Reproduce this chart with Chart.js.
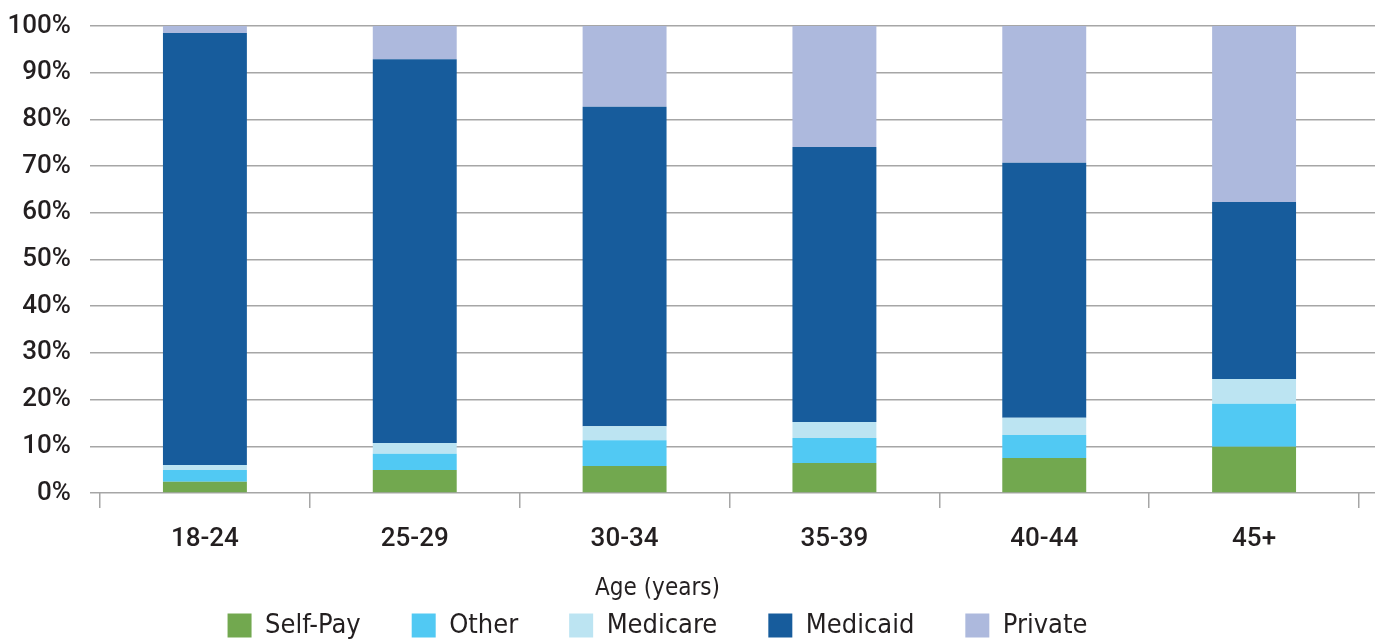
<!DOCTYPE html>
<html>
<head>
<meta charset="utf-8">
<script src="https://cdn.jsdelivr.net/npm/chart.js@4"></script>
<style>
  html, body { margin: 0; padding: 0; background: #ffffff; }
  #wrap { width: 1382px; height: 644px; }
</style>
</head>
<body>
<div id="wrap"><canvas id="chart" width="1382" height="644"></canvas></div>
<script>
// Payer mix by maternal age group (percent of births)
const ageGroups = ['18-24', '25-29', '30-34', '35-39', '40-44', '45+'];
const selfPay   = [2.4, 4.9, 5.8, 6.4, 7.5, 9.9];
const other     = [2.5, 3.5, 5.5, 5.4, 4.9, 9.2];
const medicare  = [1.1, 2.3, 3.0, 3.4, 3.7, 5.3];
const medicaid  = [92.5, 82.2, 68.4, 58.9, 54.6, 37.9];
const privateIns = [1.5, 7.1, 17.3, 25.9, 29.3, 37.7];
const percentTicks = [0, 10, 20, 30, 40, 50, 60, 70, 80, 90, 100];

const GRID = '#a6a6a6';
const TEXT = '#231f20';
const TICK_FAMILY = 'Roboto, "Liberation Sans", sans-serif';
// condensed face for the legend and axis caption
const NARROW = '"DejaVu Sans Condensed", "Liberation Sans Narrow", sans-serif';

// shifts the bottom legend block sideways after layout
const LEGEND_DX = -30;
const legendOffset = {
  id: 'legendOffset',
  afterLayout(chart) {
    if (chart.legend) {
      chart.legend.left += LEGEND_DX;
      chart.legend.right += LEGEND_DX;
    }
  }
};

const series = [
  { label: 'Self-Pay', data: selfPay,    color: '#72a84f' },
  { label: 'Other',    data: other,      color: '#51c9f3' },
  { label: 'Medicare', data: medicare,   color: '#bce4f2' },
  { label: 'Medicaid', data: medicaid,   color: '#175c9c' },
  { label: 'Private',  data: privateIns, color: '#adb9dd' }
];

new Chart(document.getElementById('chart'), {
  type: 'bar',
  data: {
    labels: ageGroups,
    datasets: series.map(s => ({
      label: s.label,
      data: s.data,
      backgroundColor: s.color,
      borderWidth: 0,
      barPercentage: 0.4,
      categoryPercentage: 1.0
    }))
  },
  plugins: [legendOffset],
  options: {
    responsive: false,
    animation: false,
    layout: { padding: { top: 26, right: 7, bottom: 0, left: 0 } },
    plugins: {
      tooltip: { enabled: false },
      legend: {
        position: 'bottom',
        maxHeight: 67,
        title: {
          display: true,
          text: 'Age (years)',
          color: TEXT,
          font: { family: NARROW, size: 24, lineHeight: 1 },
          padding: { top: 0, bottom: -40 }
        },
        labels: {
          color: TEXT,
          font: { family: NARROW, size: 27 },
          boxWidth: 24,
          boxHeight: 24,
          padding: 51
        }
      }
    },
    scales: {
      x: {
        stacked: true,
        grid: {
          drawOnChartArea: false,
          drawTicks: true,
          tickLength: 15,
          color: GRID,
          lineWidth: 1.5
        },
        border: { display: false },
        ticks: {
          color: TEXT,
          font: { family: TICK_FAMILY, size: 26, weight: '500', lineHeight: 1.2 },
          padding: 16
        },
        afterFit(scale) { scale.height = 84; }
      },
      y: {
        stacked: true,
        min: 0,
        max: 100,
        afterBuildTicks(scale) { scale.ticks = percentTicks.map(v => ({ value: v })); },
        grid: { color: GRID, lineWidth: 1.5, tickLength: 10 },
        border: { display: false },
        ticks: {
          color: TEXT,
          font: { family: TICK_FAMILY, size: 26, weight: '500', lineHeight: 0.5 },
          padding: 19,
          callback: v => v + '%'
        },
        afterFit(scale) { scale.width = 100; }
      },
      yRight: {
        position: 'right',
        min: 0,
        max: 100,
        afterBuildTicks(scale) { scale.ticks = percentTicks.map(v => ({ value: v })); },
        grid: { drawOnChartArea: false, color: GRID, lineWidth: 1.5, tickLength: 16 },
        border: { display: false },
        ticks: { display: false },
        afterFit(scale) { scale.width = 16; }
      }
    }
  }
});
</script>
</body>
</html>
